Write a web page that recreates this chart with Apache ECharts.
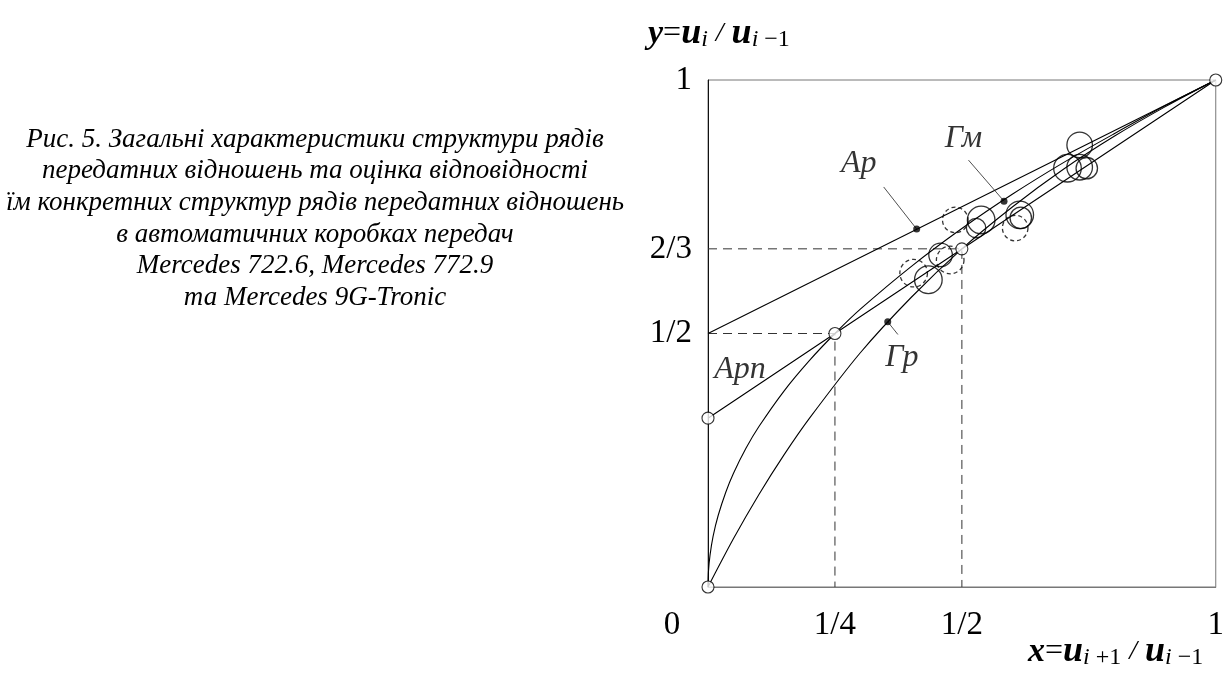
<!DOCTYPE html>
<html><head><meta charset="utf-8">
<script src="https://cdn.jsdelivr.net/npm/echarts@6/dist/echarts.min.js"></script>
<style>html,body{margin:0;padding:0;background:#fff}#c{width:1227px;height:677px}</style>
</head><body><div id="c"></div>
<script>
// ---- data ----
var xTicks = [0, 0.25, 0.5, 1];
var xTickLabels = ['0', '1/4', '1/2', '1'];
var yTicks = [0.5, 2/3, 1];
var yTickLabels = ['1/2', '2/3', '1'];
var arLine = [[0, 0.5], [1, 1]];                 // Ар
var arpLine = [[0, 0.333], [0.25, 0.5], [1, 1]]; // Арп
var gmCurve = [[0,0],[0.001,0.032],[0.004,0.063],[0.01,0.1],[0.02,0.141],[0.035,0.187],[0.05,0.224],[0.075,0.274],[0.1,0.316],[0.15,0.387],[0.2,0.447],[0.25,0.5],[0.3,0.548],[0.4,0.632],[0.5,0.707],[0.6,0.775],[0.7,0.837],[0.8,0.894],[0.9,0.949],[1,1]];
var grCurve = [[0,0],[0.05,0.095],[0.1,0.182],[0.15,0.261],[0.2,0.333],[0.3,0.462],[0.4,0.571],[0.5,0.667],[0.6,0.75],[0.7,0.824],[0.8,0.889],[0.9,0.947],[1,1]];
var nodePoints = [[0,0],[0,0.333],[0.25,0.5],[0.5,0.667],[1,1]];
var labelDots = [[0.411,0.706],[0.583,0.761],[0.354,0.523]];
// gearbox points: x, y, spread (radius, in axis units)
var solidPts = [[0.732,0.872,0.025],[0.708,0.826,0.027],[0.732,0.828,0.025],[0.746,0.826,0.021],[0.538,0.724,0.027],[0.528,0.708,0.019],[0.614,0.734,0.027],[0.616,0.728,0.021],[0.458,0.655,0.023],[0.434,0.606,0.027]];
var dashedPts = [[0.487,0.724,0.025],[0.605,0.708,0.025],[0.477,0.645,0.027],[0.405,0.619,0.027]];
var guide1 = [[0,0.5],[0.25,0.5],[0.25,0]];
var guide2 = [[0,0.667],[0.5,0.667],[0.5,0]];
var curveNames = ['Ар', 'Арп', 'Гм', 'Гр'];
var caption = ['Рис. 5. Загальні характеристики структури рядів','передатних відношень та оцінка відповідності','їм конкретних структур рядів передатних відношень','в автоматичних коробках передач','Mercedes 722.6, Mercedes 772.9','та Mercedes 9G-Tronic'];

var GL = 708, GT = 80, GW = 511, GH = 507;
var serif = '"Liberation Serif","DejaVu Serif",serif';
var chart = echarts.init(document.getElementById('c'));

function lineS(data, extra) {
  return Object.assign({type:'line', data:data, symbol:'none', showSymbol:false, silent:true,
    lineStyle:{color:'#000', width:1.1}, z:3, animation:false}, extra || {});
}
var richSub = {
  v:{fontFamily:serif, fontStyle:'italic', fontWeight:'bold', fontSize:34, color:'#000'},
  o:{fontFamily:serif, fontSize:32, color:'#000'},
  sl:{fontFamily:serif, fontStyle:'italic', fontSize:28, color:'#000', padding:[0,8,0,8]},
  u:{fontFamily:serif, fontStyle:'italic', fontWeight:'bold', fontSize:36, color:'#000'},
  s:{fontFamily:serif, fontStyle:'italic', fontSize:24, color:'#000', verticalAlign:'bottom', padding:[12,0,0,0]},
  n:{fontFamily:serif, fontSize:24, color:'#000', verticalAlign:'bottom', padding:[12,0,0,0]}
};
var labelFont = {fontFamily:serif, fontStyle:'italic', fontSize:32, color:'#000'};

var option = {
  backgroundColor:'#fff',
  animation:false,
  grid:{left:GL, top:GT, width:GW, height:GH, show:true, borderColor:'#777', borderWidth:1, containLabel:false},
  xAxis:{type:'value', min:0, max:1, splitLine:{show:false},
    axisLine:{show:true, lineStyle:{color:'#777', width:1}}, axisTick:{show:false},
    axisLabel:{customValues:xTicks, margin:22, fontFamily:serif, fontSize:33, color:'#000',
      formatter:function(v){var i=xTicks.indexOf(v); if(v===0) return '{z|0}'; return i>=0?xTickLabels[i]:'';},
      rich:{z:{fontFamily:serif, fontSize:33, color:'#000', padding:[0,72,0,0]}}}},
  yAxis:{type:'value', min:0, max:1, splitLine:{show:false},
    axisLine:{show:true, lineStyle:{color:'#111', width:1}}, axisTick:{show:false},
    axisLabel:{customValues:yTicks, margin:16, fontFamily:serif, fontSize:33, color:'#000',
      formatter:function(v){for(var i=0;i<yTicks.length;i++){if(Math.abs(yTicks[i]-v)<1e-6) return yTickLabels[i];} return '';}}},
  graphic:[
    {type:'text', x:315, y:124, style:{text:caption.join('\n'), textAlign:'center', fontFamily:serif, fontStyle:'italic', fontSize:27, lineHeight:31.6, fill:'#000'}},
    {type:'text', left:648, top:16, style:{text:'{v|y}{o|=}{u|u}{s|i}{sl|/}{u|u}{s|i}{n| −1}', rich:richSub}},
    {type:'text', left:1028, top:634, style:{text:'{v|x}{o|=}{u|u}{s|i}{n| +1}{sl|/}{u|u}{s|i}{n| −1}', rich:richSub}}
  ],
  series:[
    lineS(guide1, {lineStyle:{color:'#333', width:1, type:[9,6]}}),
    lineS(guide2, {lineStyle:{color:'#333', width:1, type:[9,6]}}),
    lineS(arLine, {name:curveNames[0]}),
    lineS(arpLine, {name:curveNames[1]}),
    lineS(gmCurve, {name:curveNames[2], smooth:0.3}),
    lineS(grCurve, {name:curveNames[3], smooth:0.3}),
    // leader lines
    lineS([labelDots[0],[0.346,0.789]], {lineStyle:{color:'#222', width:0.8}}),
    lineS([labelDots[1],[0.513,0.842]], {lineStyle:{color:'#222', width:0.8}}),
    lineS([labelDots[2],[0.374,0.498]], {lineStyle:{color:'#222', width:0.8}}),
    {type:'scatter', data:solidPts, silent:true, z:4, clip:false,
      symbolSize:function(d){return d[2]*2*GW;},
      itemStyle:{color:'rgba(0,0,0,0)', borderColor:'#000', borderWidth:1.3}},
    {type:'scatter', data:dashedPts, silent:true, z:4, clip:false,
      symbolSize:function(d){return d[2]*2*GW;},
      itemStyle:{color:'rgba(0,0,0,0)', borderColor:'#000', borderWidth:1.3, borderType:[4,3]}},
    {type:'scatter', data:nodePoints, silent:true, z:6, clip:false, symbolSize:12,
      itemStyle:{color:'#fff', borderColor:'#000', borderWidth:1.1}},
    {type:'scatter', data:labelDots, silent:true, z:6, symbolSize:7, itemStyle:{color:'#000'}},
    // curve labels
    {type:'scatter', silent:true, z:7, symbolSize:0, clip:false,
      data:[
        {value:[0.297,0.835], label:{formatter:curveNames[0]}},
        {value:[0.063,0.428], label:{formatter:curveNames[1]}},
        {value:[0.503,0.884], label:{formatter:curveNames[2]}},
        {value:[0.382,0.452], label:{formatter:curveNames[3]}}
      ],
      label:Object.assign({show:true, position:'inside'}, labelFont)}
  ]
};
chart.setOption(option);
</script></body></html>
